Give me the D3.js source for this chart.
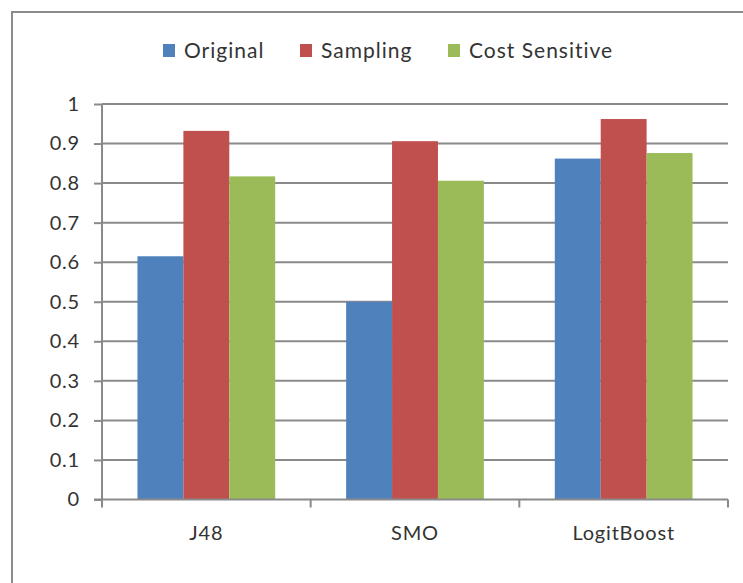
<!DOCTYPE html>
<html><head><meta charset="utf-8">
<script src="https://cdn.jsdelivr.net/npm/d3@7"></script>
<style>body{margin:0;background:#fff;} svg{display:block;}</style>
</head><body>
<script>
const categories = ["J48", "SMO", "LogitBoost"];
const seriesNames = ["Original", "Sampling", "Cost Sensitive"];
const original = [0.615, 0.50, 0.862];
const sampling = [0.932, 0.906, 0.962];
const costSensitive = [0.817, 0.806, 0.876];
const yTicks = [0, 0.1, 0.2, 0.3, 0.4, 0.5, 0.6, 0.7, 0.8, 0.9, 1];
const colors = ["#4F81BD", "#C0504D", "#9BBB59"];

(function () {
const W = 743, H = 583;
const svg = d3.select("body").append("svg").attr("width", W).attr("height", H);
const font = "Lato, 'Open Sans', sans-serif";
const txt = "#333";

svg.append("rect").attr("x", 12).attr("y", 12).attr("width", 800).attr("height", 700)
  .attr("fill", "#fff").attr("stroke", "#8c8c8c").attr("stroke-width", 2);

const pLeft = 102, pRight = 728, pTop = 104, pBottom = 499.5;
const y = d3.scaleLinear().domain([0, 1]).range([pBottom, pTop]);
const x0 = d3.scaleBand().domain(categories).range([pLeft, pRight]).paddingInner(0.34).paddingOuter(0.17);
const x1 = d3.scaleBand().domain(seriesNames).range([0, x0.bandwidth()]);

// gridlines
svg.append("g").selectAll("line").data(yTicks.filter(d => d > 0)).join("line")
  .attr("x1", pLeft).attr("x2", pRight).attr("y1", d => y(d)).attr("y2", d => y(d))
  .attr("stroke", "#8a8a8a").attr("stroke-width", 2);

const data = [original, sampling, costSensitive];
categories.forEach((c, i) => {
  seriesNames.forEach((s, j) => {
    svg.append("rect").attr("x", x0(c) + x1(s)).attr("y", y(data[j][i]))
      .attr("width", x1.bandwidth()).attr("height", y(0) - y(data[j][i]))
      .attr("fill", colors[j]);
  });
});

// y axis
const yAxis = d3.axisLeft(y).tickValues(yTicks).tickSize(8).tickPadding(14).tickFormat(d => String(+d.toFixed(1)));
const gy = svg.append("g").attr("transform", `translate(${pLeft},0)`).call(yAxis);
gy.select(".domain").attr("stroke", "#8a8a8a").attr("stroke-width", 2).attr("d", `M0,${pTop}V${pBottom}`);
gy.selectAll(".tick line").attr("stroke", "#8a8a8a").attr("stroke-width", 2);
gy.selectAll("text").attr("font-family", font).attr("font-size", 20).attr("letter-spacing", "0.8px").attr("fill", txt);

// x axis
const gx = svg.append("g").attr("transform", `translate(0,${pBottom})`);
gx.append("line").attr("x1", pLeft - 8).attr("x2", pRight).attr("y1", 0).attr("y2", 0)
  .attr("stroke", "#8a8a8a").attr("stroke-width", 2);
const bounds = [pLeft].concat(categories.map(c => x0(c) + x0.bandwidth() + x0.step() * 0.17));
gx.selectAll("line.t").data(bounds).join("line").attr("class", "t")
  .attr("x1", d => d).attr("x2", d => d).attr("y1", 0).attr("y2", 8)
  .attr("stroke", "#8a8a8a").attr("stroke-width", 2);
gx.selectAll("text").data(categories).join("text")
  .attr("x", d => x0(d) + x0.bandwidth() / 2).attr("y", 40)
  .attr("text-anchor", "middle").attr("font-family", font).attr("font-size", 20)
  .attr("letter-spacing", "0.8px").attr("fill", txt)
  .text(d => d);

// legend
const legendX = [163, 300, 448];
const lg = svg.append("g");
seriesNames.forEach((s, j) => {
  lg.append("rect").attr("x", legendX[j]).attr("y", 44).attr("width", 12).attr("height", 13).attr("fill", colors[j]);
  lg.append("text").attr("x", legendX[j] + 21).attr("y", 58).attr("font-family", font).attr("font-size", 21)
    .attr("letter-spacing", "1px").attr("fill", txt).text(s);
});
})();
</script>
</body></html>
